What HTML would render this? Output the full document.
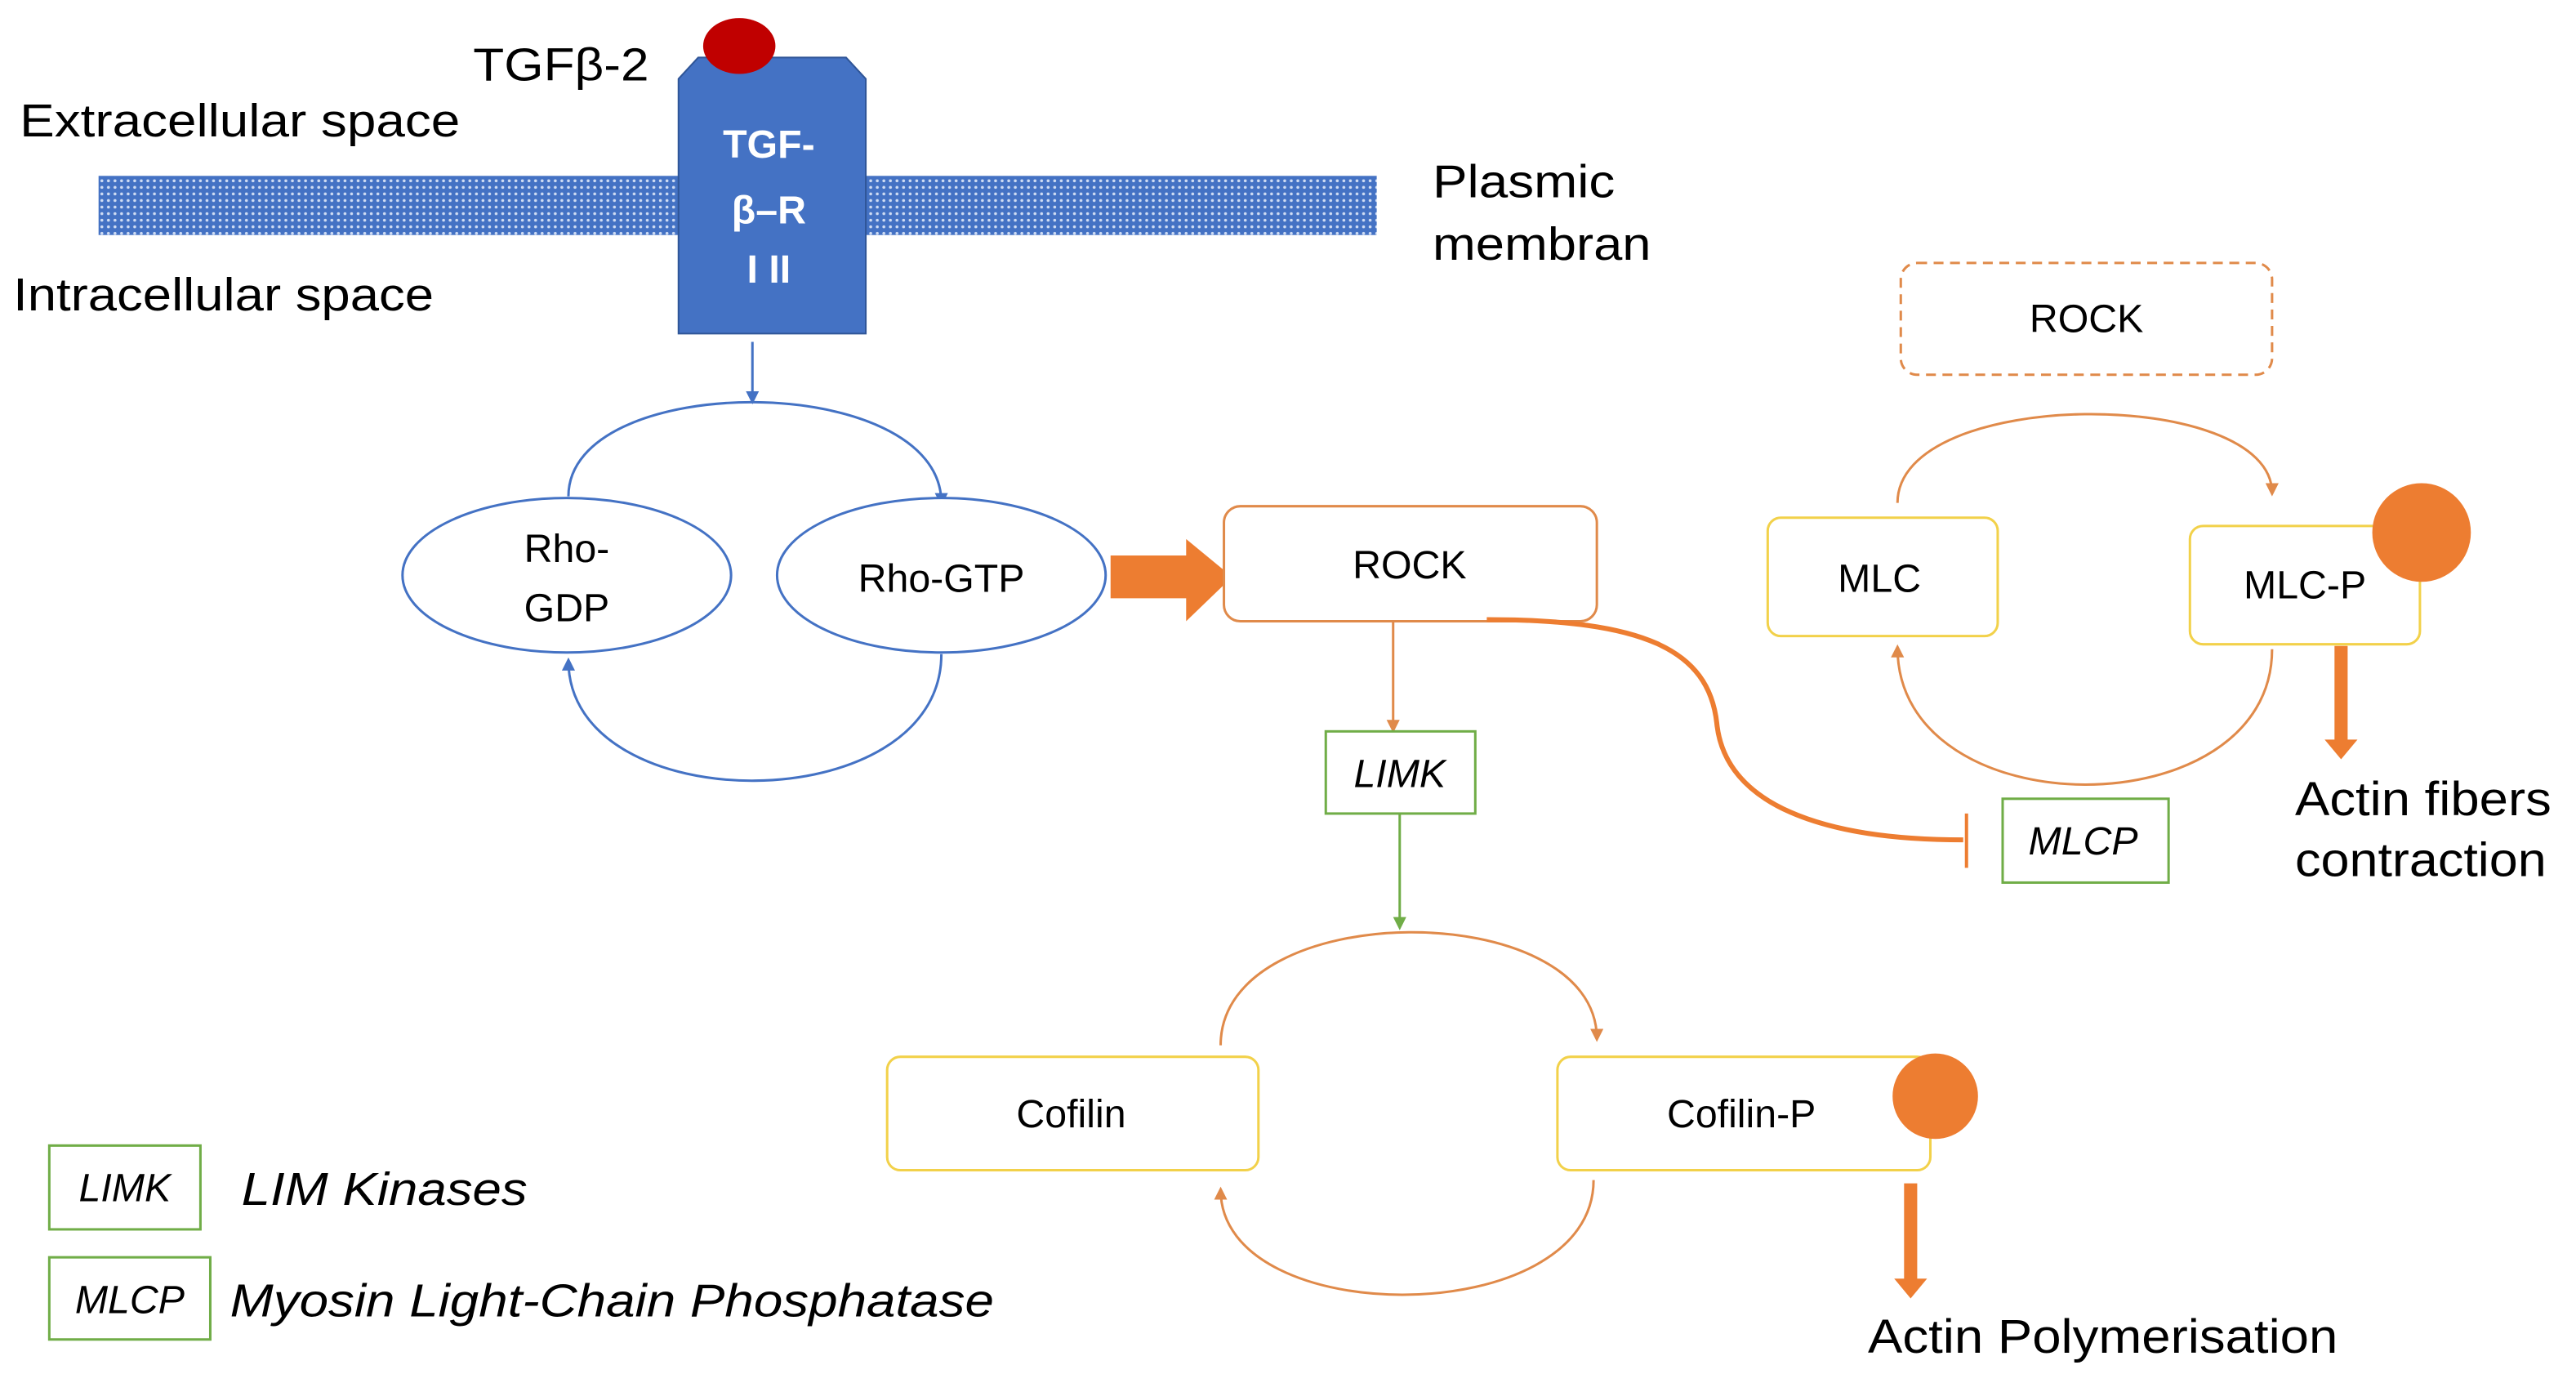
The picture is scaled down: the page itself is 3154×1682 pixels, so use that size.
<!DOCTYPE html>
<html><head><meta charset="utf-8"><style>
html,body{margin:0;padding:0;background:#fff;}
svg{display:block;}
text{font-family:"Liberation Sans",Arial,sans-serif;}
</style></head><body>
<svg width="3154" height="1682" viewBox="0 0 1568 836" preserveAspectRatio="none" xmlns="http://www.w3.org/2000/svg">
<defs>
<pattern id="dots" width="4" height="4" patternUnits="userSpaceOnUse">
<rect width="4" height="4" fill="#4472c4"/><circle cx="2" cy="2" r="0.9" fill="#cfdcf3"/>
</pattern>
<marker id="ab" markerWidth="8" markerHeight="8" refX="6" refY="4" orient="auto" markerUnits="userSpaceOnUse"><path d="M0,0 L8,4 L0,8 z" fill="#4472c4"/></marker>
<marker id="ao" markerWidth="8" markerHeight="8" refX="6" refY="4" orient="auto" markerUnits="userSpaceOnUse"><path d="M0,0 L8,4 L0,8 z" fill="#e08a4a"/></marker>
<marker id="ag" markerWidth="8" markerHeight="8" refX="6" refY="4" orient="auto" markerUnits="userSpaceOnUse"><path d="M0,0 L8,4 L0,8 z" fill="#70ad47"/></marker>
</defs>
<rect width="1568" height="836" fill="#fff"/>
<rect x="60" y="107" width="778" height="36" fill="url(#dots)"/>
<text x="12" y="83" font-size="28" textLength="268" lengthAdjust="spacingAndGlyphs">Extracellular space</text>
<text x="8" y="189" font-size="28" textLength="256" lengthAdjust="spacingAndGlyphs">Intracellular space</text>
<text x="872" y="120" font-size="28" textLength="111" lengthAdjust="spacingAndGlyphs">Plasmic</text>
<text x="872" y="158" font-size="28" textLength="133" lengthAdjust="spacingAndGlyphs">membran</text>
<path d="M425,35 L515,35 L527,48 L527,203 L413,203 L413,48 z" fill="#4472c4" stroke="#2f5597" stroke-width="1"/>
<ellipse cx="450" cy="28" rx="22" ry="17" fill="#c00000"/>
<text x="288" y="49" font-size="28" textLength="107" lengthAdjust="spacingAndGlyphs">TGFβ-2</text>
<g fill="#fff" font-size="24" font-weight="bold" text-anchor="middle">
<text x="468" y="96">TGF-</text><text x="468" y="136">β–R</text><text x="468" y="172">I II</text></g>
<line x1="458" y1="208" x2="458" y2="244" stroke="#4472c4" stroke-width="1.5" marker-end="url(#ab)"/>
<path d="M346,302 C346,225 573,225 573,306" fill="none" stroke="#4472c4" stroke-width="1.5" marker-end="url(#ab)"/>
<path d="M573,398 C573,500 346,500 346,402" fill="none" stroke="#4472c4" stroke-width="1.5" marker-end="url(#ab)"/>
<ellipse cx="345" cy="350" rx="100" ry="47" fill="#fff" stroke="#4472c4" stroke-width="1.5"/>
<ellipse cx="573" cy="350" rx="100" ry="47" fill="#fff" stroke="#4472c4" stroke-width="1.5"/>
<g font-size="24" text-anchor="middle"><text x="345" y="342">Rho-</text><text x="345" y="378">GDP</text><text x="573" y="360">Rho-GTP</text></g>
<path d="M676,338 L722,338 L722,328 L750,351 L722,378 L722,364 L676,364 z" fill="#ed7d31"/>
<rect x="745" y="308" width="227" height="70" rx="10" fill="#fff" stroke="#e08a4a" stroke-width="1.5"/>
<text x="858" y="352" font-size="24" text-anchor="middle">ROCK</text>
<line x1="848" y1="378" x2="848" y2="444" stroke="#e08a4a" stroke-width="1.5" marker-end="url(#ao)"/>
<rect x="807" y="445" width="91" height="50" fill="#fff" stroke="#70ad47" stroke-width="1.5"/>
<text x="852" y="479" font-size="24" font-style="italic" text-anchor="middle">LIMK</text>
<line x1="852" y1="495" x2="852" y2="564" stroke="#70ad47" stroke-width="1.5" marker-end="url(#ag)"/>
<path d="M905,377 C1000,377 1040,395 1045,440 C1050,490 1110,511 1195,511" fill="none" stroke="#ed7d31" stroke-width="3"/>
<line x1="1197" y1="495" x2="1197" y2="528" stroke="#ed7d31" stroke-width="2"/>
<rect x="1219" y="486" width="101" height="51" fill="#fff" stroke="#70ad47" stroke-width="1.5"/>
<text x="1268" y="520" font-size="24" font-style="italic" text-anchor="middle">MLCP</text>
<path d="M743,636 C743,545 972,545 972,632" fill="none" stroke="#e08a4a" stroke-width="1.5" marker-end="url(#ao)"/>
<path d="M970,718 C970,810 743,810 743,724" fill="none" stroke="#e08a4a" stroke-width="1.5" marker-end="url(#ao)"/>
<rect x="540" y="643" width="226" height="69" rx="8" fill="#fff" stroke="#f2d14a" stroke-width="1.5"/>
<rect x="948" y="643" width="227" height="69" rx="8" fill="#fff" stroke="#f2d14a" stroke-width="1.5"/>
<circle cx="1178" cy="667" r="26" fill="#ed7d31"/>
<g font-size="24" text-anchor="middle"><text x="652" y="686">Cofilin</text><text x="1060" y="686">Cofilin-P</text></g>
<path d="M1159,720 L1167,720 L1167,778 L1173,778 L1163,790 L1153,778 L1159,778 z" fill="#ed7d31"/>
<text x="1137" y="823" font-size="29" textLength="286" lengthAdjust="spacingAndGlyphs">Actin Polymerisation</text>
<rect x="1157" y="160" width="226" height="68" rx="10" fill="#fff" stroke="#e08a4a" stroke-width="1.5" stroke-dasharray="6,4"/>
<text x="1270" y="202" font-size="24" text-anchor="middle">ROCK</text>
<path d="M1155,306 C1155,235 1383,235 1383,300" fill="none" stroke="#e08a4a" stroke-width="1.5" marker-end="url(#ao)"/>
<path d="M1383,395 C1383,505 1155,505 1155,394" fill="none" stroke="#e08a4a" stroke-width="1.5" marker-end="url(#ao)"/>
<rect x="1076" y="315" width="140" height="72" rx="8" fill="#fff" stroke="#f2d14a" stroke-width="1.5"/>
<rect x="1333" y="320" width="140" height="72" rx="8" fill="#fff" stroke="#f2d14a" stroke-width="1.5"/>
<circle cx="1474" cy="324" r="30" fill="#ed7d31"/>
<g font-size="24" text-anchor="middle"><text x="1144" y="360">MLC</text><text x="1403" y="364">MLC-P</text></g>
<path d="M1421,393 L1429,393 L1429,450 L1435,450 L1425,462 L1415,450 L1421,450 z" fill="#ed7d31"/>
<text x="1397" y="496" font-size="29" textLength="156" lengthAdjust="spacingAndGlyphs">Actin fibers</text>
<text x="1397" y="533" font-size="29" textLength="153" lengthAdjust="spacingAndGlyphs">contraction</text>
<rect x="30" y="697" width="92" height="51" fill="#fff" stroke="#70ad47" stroke-width="1.5"/>
<text x="76" y="731" font-size="24" font-style="italic" text-anchor="middle">LIMK</text>
<text x="147" y="733" font-size="28" font-style="italic" textLength="174" lengthAdjust="spacingAndGlyphs">LIM Kinases</text>
<rect x="30" y="765" width="98" height="50" fill="#fff" stroke="#70ad47" stroke-width="1.5"/>
<text x="79" y="799" font-size="24" font-style="italic" text-anchor="middle">MLCP</text>
<text x="140" y="801" font-size="28" font-style="italic" textLength="465" lengthAdjust="spacingAndGlyphs">Myosin Light-Chain Phosphatase</text>
</svg>
</body></html>
